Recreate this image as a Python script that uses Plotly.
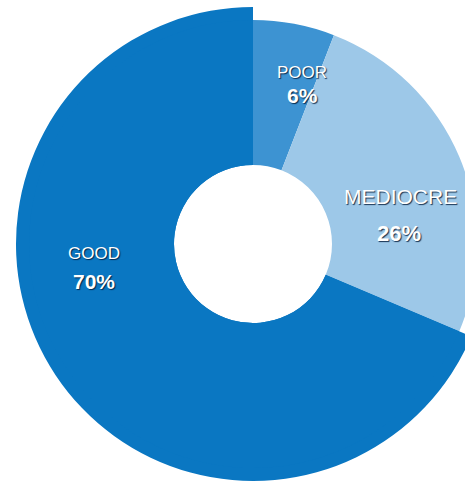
import plotly.graph_objects as go

# Ratings share
categories = ["POOR", "MEDIOCRE", "GOOD"]
values = [6, 26, 70]
colors = ["#3D93D2", "#9DC8E8", "#0A77C2"]

# Label styling per slice (name size, value size) and label centres in px
name_sizes = [17, 21, 17]
value_sizes = [21, 22, 21]
name_pos = [(302, 72), (400, 196), (94, 253)]
value_pos = [(302, 96), (399, 233), (94, 281)]

W, H = 520, 485
CX, CY = 253, 244          # donut centre (px, from top-left)
R_BIG, R_SMALL, R_HOLE = 237, 224, 79


def domain(r):
    return dict(
        x=[(CX - r) / W, (CX + r) / W],
        y=[(H - CY - r) / H, (H - CY + r) / H],
    )


fig = go.Figure()

# Larger ring carrying only the GOOD slice
fig.add_trace(go.Pie(
    labels=categories, values=values, sort=False,
    direction="clockwise", rotation=0,
    hole=R_HOLE / R_BIG, domain=domain(R_BIG),
    marker=dict(colors=["rgba(0,0,0,0)", "rgba(0,0,0,0)", colors[2]],
                line=dict(width=0)),
    textinfo="none", hoverinfo="skip", showlegend=False,
))

# Main ring with all slices
fig.add_trace(go.Pie(
    labels=categories, values=values, sort=False,
    direction="clockwise", rotation=0,
    hole=R_HOLE / R_SMALL, domain=domain(R_SMALL),
    marker=dict(colors=colors, line=dict(width=0)),
    textinfo="none", showlegend=False,
))

shadow = "1px 1px 1px rgba(0,25,55,0.85)"
annotations = []
for cat, val, ns, vs, (nx, ny), (vx, vy) in zip(
        categories, values, name_sizes, value_sizes, name_pos, value_pos):
    annotations.append(dict(
        text=cat, x=nx / W, y=1 - ny / H, xref="paper", yref="paper",
        xanchor="center", yanchor="middle", showarrow=False,
        font=dict(family="Liberation Sans, Arial", size=ns, color="white",
                  shadow=shadow),
    ))
    annotations.append(dict(
        text=f"<b>{val}%</b>", x=vx / W, y=1 - vy / H,
        xref="paper", yref="paper",
        xanchor="center", yanchor="middle", showarrow=False,
        font=dict(family="Liberation Sans, Arial", size=vs, color="white",
                  shadow=shadow),
    ))

fig.update_layout(
    width=W, height=H,
    margin=dict(l=0, r=0, t=0, b=0),
    paper_bgcolor="white", plot_bgcolor="white",
    annotations=annotations,
)

fig.write_html(
    "out.html",
    config={"displayModeBar": False},
    post_script="document.documentElement.style.overflow='hidden';"
                "document.body.style.overflow='hidden';"
                "document.body.style.margin='0';",
)
